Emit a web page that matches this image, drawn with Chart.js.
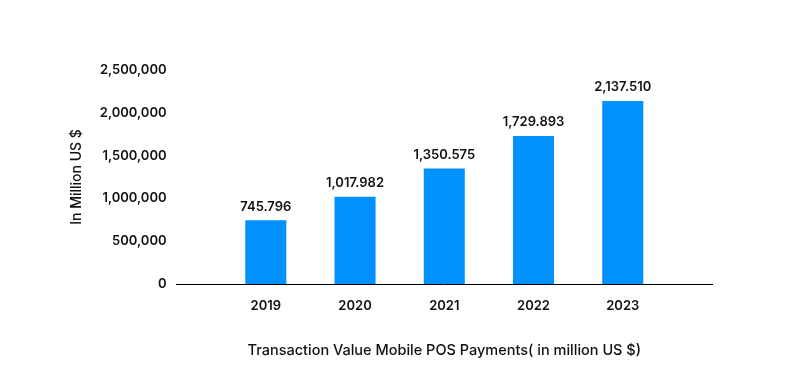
<!DOCTYPE html>
<html><head><meta charset="utf-8">
<script src="https://cdn.jsdelivr.net/npm/chart.js@4/dist/chart.umd.min.js"></script>
<style>html,body{margin:0;padding:0;background:#fff}#wrap{width:800px;height:390px}</style>
</head><body><div id="wrap"><canvas id="c" width="800" height="390"></canvas></div>
<script>
const categories = ['2019', '2020', '2021', '2022', '2023'];
const values = [745796, 1017982, 1350575, 1729893, 2137510];
const yTicks = [0, 500000, 1000000, 1500000, 2000000, 2500000];

const labels = ['', ...categories, ''];
const data = [null, ...values, null];
const FONT = 'Inter, "Open Sans", sans-serif';

const valueLabels = {
  id: 'valueLabels',
  afterDatasetsDraw(chart) {
    const ctx = chart.ctx;
    const meta = chart.getDatasetMeta(0);
    ctx.save();
    ctx.font = '600 13px ' + FONT;
    ctx.fillStyle = '#111';
    ctx.textAlign = 'center';
    ctx.textBaseline = 'bottom';
    meta.data.forEach((bar, i) => {
      const v = data[i];
      if (v == null) return;
      const txt = (v / 1000).toLocaleString('en-US', {minimumFractionDigits: 3, maximumFractionDigits: 3});
      ctx.fillText(txt, bar.x, bar.y - 7);
    });
    ctx.restore();
  }
};

new Chart(document.getElementById('c'), {
  type: 'bar',
  data: { labels, datasets: [{ data, backgroundColor: '#0091FF', barPercentage: 0.46, categoryPercentage: 1 }] },
  options: {
    responsive: false, animation: false,
    layout: { padding: { left: 64, right: 88, top: 70, bottom: 27 } },
    plugins: { legend: { display: false }, tooltip: { enabled: false } },
    scales: {
      x: {
        offset: false,
        grid: { display: false, drawTicks: false },
        border: { display: true, color: '#000', width: 1 },
        ticks: { color: '#111', font: { family: FONT, size: 13, weight: '600' }, padding: 14, autoSkip: false, maxRotation: 0 },
        title: { display: true, text: 'Transaction Value Mobile POS Payments( in million US $)', color: '#111', font: { family: FONT, size: 14.5, weight: '500' }, padding: { top: 14 } }
      },
      y: {
        min: 0, max: 2500000,
        afterBuildTicks: s => { s.ticks = yTicks.map(v => ({ value: v })); },
        grid: { display: false, drawTicks: false },
        border: { display: false },
        ticks: { color: '#111', font: { family: FONT, size: 13, weight: '600' }, padding: 10, callback: v => v.toLocaleString('en-US') },
        title: { display: true, text: 'In Million US $', color: '#111', font: { family: FONT, size: 14, weight: '500' }, padding: { bottom: 5 } }
      }
    }
  },
  plugins: [valueLabels]
});
</script></body></html>
